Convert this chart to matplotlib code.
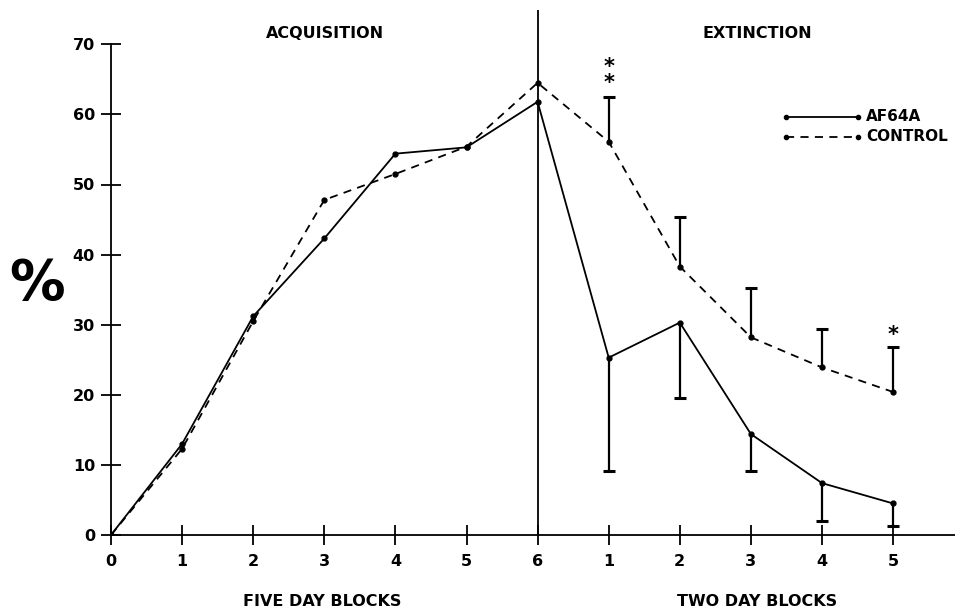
import matplotlib
matplotlib.use("Agg")
import matplotlib.pyplot as plt

plt.rcParams['font.family'] = ['Liberation Sans Narrow', 'DejaVu Sans']

# Data
x_pos = [0, 1, 2, 3, 4, 5, 6, 7, 8, 9, 10, 11]
tick_labels = ['0', '1', '2', '3', '4', '5', '6', '1', '2', '3', '4', '5']
af64a = [0, 13.0, 31.2, 42.3, 54.4, 55.3, 61.8, 25.3, 30.3, 14.4, 7.4, 4.5]
control = [0, 12.3, 30.5, 47.8, 51.5, 55.4, 64.5, 56.1, 38.3, 28.2, 23.9, 20.4]
ext_x = [7, 8, 9, 10, 11]
af64a_ext = [25.3, 30.3, 14.4, 7.4, 4.5]
af64a_err_low = [9.1, 19.5, 9.1, 2.0, 1.3]
control_ext = [56.1, 38.3, 28.2, 23.9, 20.4]
control_err_high = [62.5, 45.4, 35.2, 29.4, 26.8]
yticks = [0, 10, 20, 30, 40, 50, 60, 70]

W, H = 955, 610
fig = plt.figure(figsize=(9.55, 6.10), dpi=100)
x0px, x1px = 111, 955
y0px, y1px = 535, 10
ax = fig.add_axes([x0px / W, (H - y0px) / H, (x1px - x0px) / W, (y0px - y1px) / H])
ax.set_xlim(0, (x1px - x0px) / 71.1)
ax.set_ylim(0, (y0px - y1px) / 7.01)

for s in ['top', 'right']:
    ax.spines[s].set_visible(False)
ax.spines['left'].set_bounds(0, 70)
ax.spines['left'].set_linewidth(1.3)
ax.spines['bottom'].set_linewidth(1.3)

ax.set_xticks(x_pos)
ax.set_xticklabels(tick_labels, fontsize=11.5, fontweight='bold')
ax.set_yticks(yticks)
ax.set_yticklabels([str(v) for v in yticks], fontsize=11.5, fontweight='bold')
ax.tick_params(axis='both', direction='inout', length=15, width=1.3)
ax.tick_params(axis='x', pad=6)
ax.tick_params(axis='y', pad=4)

ax.axvline(6, color='black', lw=1.3)

ax.plot(x_pos, af64a, color='black', lw=1.3, marker='o', ms=3.5)
ax.plot(x_pos, control, color='black', lw=1.3, marker='o', ms=3.5, dashes=(4.5, 3.5))

# one-sided error bars, cap only at the far end
ax.vlines(ext_x, af64a_err_low, af64a_ext, color='black', lw=1.6)
ax.plot(ext_x, af64a_err_low, linestyle='none', marker='_', ms=9, mew=2.2, color='black')
ax.vlines(ext_x, control_ext, control_err_high, color='black', lw=1.6)
ax.plot(ext_x, control_err_high, linestyle='none', marker='_', ms=9, mew=2.2, color='black')

# asterisks
ax.text(7, 65.6, '*\n*', ha='center', va='center', fontsize=15, fontweight='bold',
        linespacing=0.75)
ax.text(11, 28.6, '*', ha='center', va='center', fontsize=15, fontweight='bold')

# legend (drawn manually)
ax.plot([9.5, 10.5], [59.7, 59.7], color='black', lw=1.3, marker='o', ms=3)
ax.plot([9.5, 10.5], [56.8, 56.8], color='black', lw=1.3, marker='o', ms=3, dashes=(4.5, 3.5))
ax.text(10.62, 59.7, 'AF64A', va='center', ha='left', fontsize=11, fontweight='bold')
ax.text(10.62, 56.8, 'CONTROL', va='center', ha='left', fontsize=11, fontweight='bold')

# headings
fig.text(325 / W, 1 - 33 / H, 'ACQUISITION', ha='center', va='center', fontsize=11.5, fontweight='bold')
fig.text(757 / W, 1 - 33 / H, 'EXTINCTION', ha='center', va='center', fontsize=11.5, fontweight='bold')
fig.text(322 / W, 1 - 601 / H, 'FIVE DAY BLOCKS', ha='center', va='center', fontsize=11.5, fontweight='bold')
fig.text(757 / W, 1 - 601 / H, 'TWO DAY BLOCKS', ha='center', va='center', fontsize=11.5, fontweight='bold')
fig.text(37 / W, 1 - 284 / H, '%', ha='center', va='center', fontsize=40, fontweight='bold')

fig.savefig('out.png', dpi=100)
